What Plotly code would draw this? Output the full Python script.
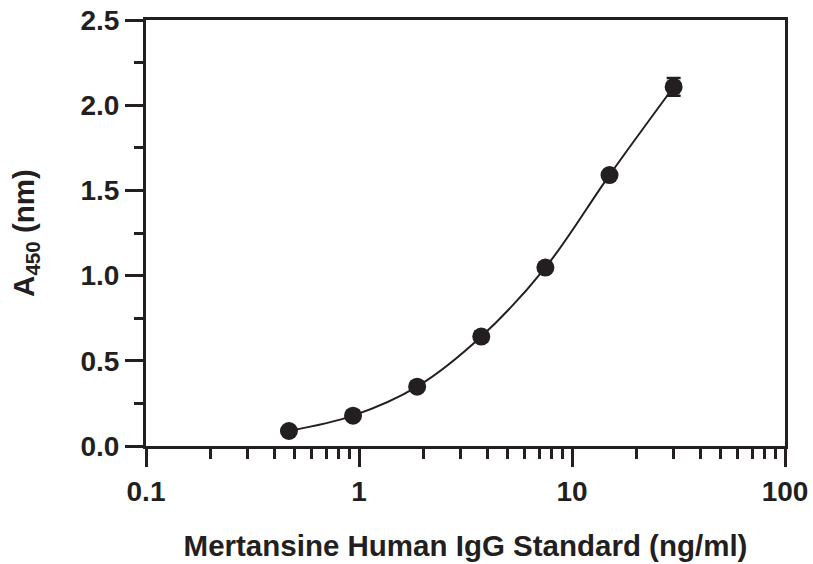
import plotly.graph_objects as go

conc = [0.469, 0.9375, 1.875, 3.75, 7.5, 15, 30]
absorb = [0.088, 0.178, 0.348, 0.642, 1.047, 1.59, 2.107]
err = [0.004, 0.006, 0.008, 0.03, 0.01, 0.01, 0.052]

x_major = [0.1, 1, 10, 100]
x_major_text = ["0.1", "1", "10", "100"]
x_minor = [m * d for d in (0.1, 1, 10) for m in range(2, 10)]

ink = "#231f20"
fam = "Liberation Sans, Arial, Helvetica, sans-serif"
fnt = dict(family=fam, size=28, color=ink, weight="bold")
tfnt = dict(family=fam, size=29.5, color=ink, weight="bold")

fig = go.Figure()
fig.add_trace(go.Scatter(
    x=conc, y=absorb, mode="lines+markers",
    line=dict(color=ink, width=2, shape="spline", smoothing=1.0),
    marker=dict(color=ink, size=18),
    error_y=dict(type="data", array=err, color=ink, thickness=2.5, width=7),
    showlegend=False,
))

fig.update_layout(
    width=813, height=564,
    margin=dict(l=146, r=28, t=20, b=118),
    paper_bgcolor="white", plot_bgcolor="white",
    font=fnt,
)
fig.update_xaxes(
    type="log", range=[-1, 2],
    tickvals=x_major, ticktext=x_major_text,
    ticks="outside", ticklen=18, tickwidth=3, tickcolor=ink,
    minor=dict(tickvals=x_minor, ticks="outside", ticklen=10, tickwidth=2.5, tickcolor=ink, showgrid=False),
    showline=True, linewidth=3, linecolor=ink, mirror=True,
    showgrid=False, zeroline=False,
    tickfont=fnt,
    title=dict(text="Mertansine Human IgG Standard (ng/ml)", font=tfnt, standoff=30),
    automargin=False,
)
fig.update_yaxes(
    range=[0, 2.5], dtick=0.5, tick0=0, tickformat=".1f",
    ticks="outside", ticklen=18, tickwidth=3, tickcolor=ink,
    minor=dict(dtick=0.25, tick0=0, ticks="outside", ticklen=9, tickwidth=2.5, tickcolor=ink, showgrid=False),
    showline=True, linewidth=3, linecolor=ink, mirror=True,
    showgrid=False, zeroline=False,
    tickfont=fnt,
    title=dict(text="A<sub>450</sub> (nm)", font=tfnt, standoff=38),
    automargin=False,
)

fig.write_html("out.html", config={"displayModeBar": False},
               post_script="document.body.style.margin='0px';")
